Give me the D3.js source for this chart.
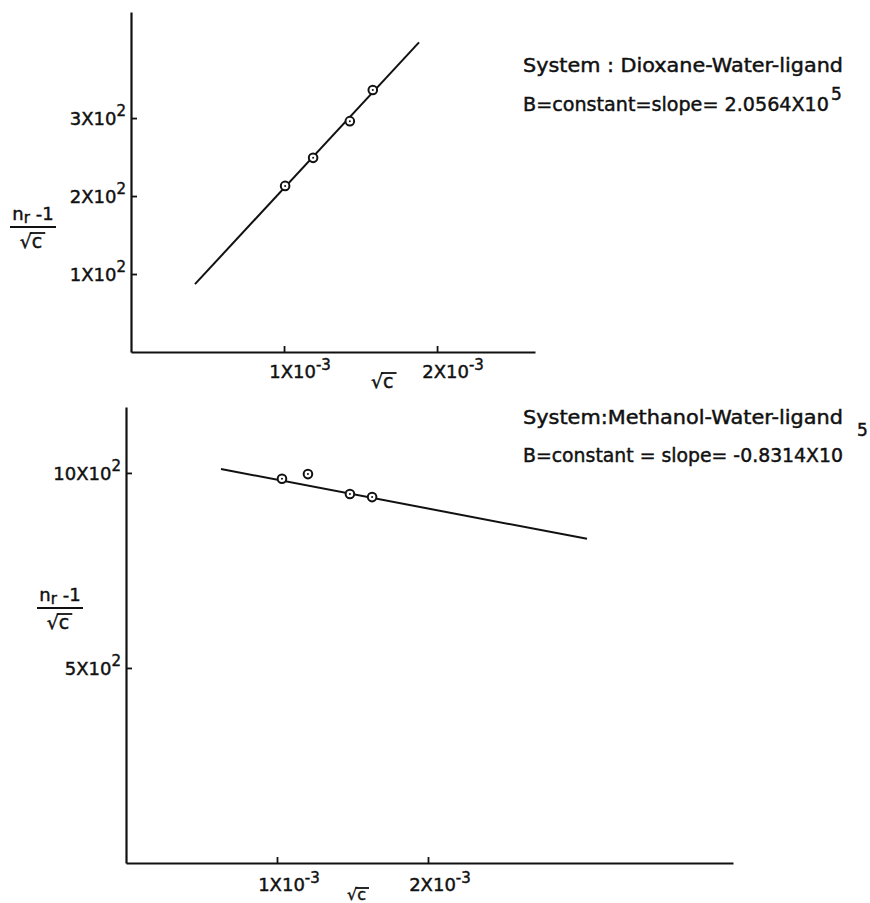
<!DOCTYPE html>
<html>
<head>
<meta charset="utf-8">
<script src="https://cdn.jsdelivr.net/npm/d3@7/dist/d3.min.js"></script>
<style>
  html, body { margin: 0; padding: 0; background: #fff; }
  svg { display: block; }
  text { font-family: "DejaVu Sans", sans-serif; fill: #111; stroke: #111; stroke-width: 0.45px; }
</style>
</head>
<body>
<svg id="chart" width="870" height="903"></svg>
<script>
// ---- Data ----
// Upper panel: Dioxane-Water-ligand
const dioxaneX = [1.007e-3, 1.19e-3, 1.43e-3, 1.58e-3];
const dioxaneY = [213, 249, 296, 336];
const dioxaneFitX = [0.418e-3, 1.882e-3];
const dioxaneFitY = [87, 397];
// Lower panel: Methanol-Water-ligand
const methanolX = [1.033e-3, 1.205e-3, 1.483e-3, 1.63e-3];
const methanolY = [985, 997, 946, 938];
const methanolFitX = [0.629e-3, 3.053e-3];
const methanolFitY = [1010, 831];
// Tick values and labels
const topXTicks = [1e-3, 2e-3];
const topXLabels = ["1X10", "2X10"];
const topYTicks = [100, 200, 300];
const topYLabels = ["1X10", "2X10", "3X10"];
const botXTicks = [1e-3, 2e-3];
const botXLabels = ["1X10", "2X10"];
const botYTicks = [500, 1000];
const botYLabels = ["5X10", "10X10"];
const xSup = "-3", ySup = "2";
const topTitle = "System : Dioxane-Water-ligand";
const topSlope = "B=constant=slope= 2.0564X10";
const botTitle = "System:Methanol-Water-ligand";
const botSlope = "B=constant = slope= -0.8314X10";
const slopeSup = "5";

const svg = d3.select("#chart");
const ink = "#111";

function panel(cfg) {
  const x = d3.scaleLinear().domain(cfg.xDomain).range(cfg.xRange);
  const y = d3.scaleLinear().domain(cfg.yDomain).range(cfg.yRange);
  const g = svg.append("g");

  // axes (ticks pointing inward)
  const xAxis = d3.axisBottom(x).tickValues(cfg.xTicks).tickSize(-6).tickSizeOuter(0).tickFormat("");
  const yAxis = d3.axisLeft(y).tickValues(cfg.yTicks).tickSize(-6).tickSizeOuter(0).tickFormat("");
  const gx = g.append("g").attr("transform", `translate(0,${y(0)})`).call(xAxis);
  const gy = g.append("g").attr("transform", `translate(${x(0)},0)`).call(yAxis);
  [gx, gy].forEach(a => {
    a.selectAll("path").attr("stroke", ink).attr("stroke-width", 2.2);
    a.selectAll("line").attr("stroke", ink).attr("stroke-width", 1.8);
  });

  // x tick labels
  cfg.xTicks.forEach((v, i) => {
    const t = g.append("text").attr("x", x(v) + cfg.xLabDx).attr("y", y(0) + cfg.xLabDy)
      .attr("text-anchor", "middle").attr("font-size", 18);
    t.append("tspan").text(cfg.xLabels[i]);
    t.append("tspan").attr("dy", -8).attr("font-size", 15).text(xSup);
  });
  // y tick labels
  cfg.yTicks.forEach((v, i) => {
    const t = g.append("text").attr("x", x(0) - 5).attr("y", y(v) + 7)
      .attr("text-anchor", "end").attr("font-size", 18);
    t.append("tspan").text(cfg.yLabels[i]);
    t.append("tspan").attr("dy", -9).attr("font-size", 15).text(ySup);
  });

  // fitted line
  const line = d3.line().x(d => x(d[0])).y(d => y(d[1]));
  g.append("path").datum(d3.zip(cfg.fitX, cfg.fitY)).attr("d", line)
    .attr("fill", "none").attr("stroke", ink).attr("stroke-width", 2);

  // points
  const pts = d3.zip(cfg.px, cfg.py);
  g.selectAll("circle.pt").data(pts).join("circle").attr("class", "pt")
    .attr("cx", d => x(d[0])).attr("cy", d => y(d[1])).attr("r", 4.3)
    .attr("fill", "#fff").attr("stroke", ink).attr("stroke-width", 2);
  g.selectAll("circle.dot").data(pts).join("circle").attr("class", "dot")
    .attr("cx", d => x(d[0])).attr("cy", d => y(d[1])).attr("r", 1)
    .attr("fill", ink);

  // x axis title: √c with overline
  const xl = g.append("text").attr("x", cfg.xTitle[0]).attr("y", cfg.xTitle[1])
    .attr("font-size", cfg.xTitleSize).text("√c");
  const xb = xl.node().getBBox();
  g.append("line").attr("x1", xb.x + xb.width * 0.45).attr("x2", xb.x + xb.width + 3)
    .attr("y1", xb.y + 3).attr("y2", xb.y + 3).attr("stroke", ink).attr("stroke-width", 1.8);

  // y axis title: fraction (n_r - 1) / √c
  const [fx, fy] = cfg.yTitle;
  const num = g.append("text").attr("x", fx).attr("y", fy - 7).attr("text-anchor", "middle").attr("font-size", 18);
  num.append("tspan").text("n");
  num.append("tspan").attr("dy", 3).attr("font-size", 15).text("r");
  num.append("tspan").attr("dy", -3).text(" -1");
  g.append("line").attr("x1", fx - 23).attr("x2", fx + 23).attr("y1", fy).attr("y2", fy)
    .attr("stroke", ink).attr("stroke-width", 2);
  const den = g.append("text").attr("x", fx - 2).attr("y", fy + 21).attr("text-anchor", "middle")
    .attr("font-size", 19).text("√c");
  const db = den.node().getBBox();
  g.append("line").attr("x1", db.x + db.width * 0.45).attr("x2", db.x + db.width + 3)
    .attr("y1", db.y + 3).attr("y2", db.y + 3).attr("stroke", ink).attr("stroke-width", 1.8);

  // annotation
  g.append("text").attr("x", 523).attr("y", cfg.ann[0]).attr("font-size", 19)
    .attr("textLength", 320).attr("lengthAdjust", "spacingAndGlyphs").text(cfg.title);
  g.append("text").attr("x", 523).attr("y", cfg.ann[1]).attr("font-size", 19)
    .attr("textLength", cfg.slopeLen).attr("lengthAdjust", "spacingAndGlyphs").text(cfg.slope);
  g.append("text").attr("x", cfg.supPos[0]).attr("y", cfg.supPos[1]).attr("font-size", 17).text(slopeSup);
}

panel({
  xDomain: [0, 2.64e-3], xRange: [131, 535],
  yDomain: [0, 436], yRange: [352, 12],
  xTicks: topXTicks, xLabels: topXLabels, yTicks: topYTicks, yLabels: topYLabels,
  xLabDx: 16, xLabDy: 26,
  px: dioxaneX, py: dioxaneY, fitX: dioxaneFitX, fitY: dioxaneFitY,
  xTitle: [371, 388], xTitleSize: 19, yTitle: [33, 227],
  title: topTitle, slope: topSlope, ann: [72, 111], slopeLen: 306, supPos: [831, 100]
});

panel({
  xDomain: [0, 4.02e-3], xRange: [126, 733],
  yDomain: [0, 1169], yRange: [863, 407],
  xTicks: botXTicks, xLabels: botXLabels, yTicks: botYTicks, yLabels: botYLabels,
  xLabDx: 12, xLabDy: 28,
  px: methanolX, py: methanolY, fitX: methanolFitX, fitY: methanolFitY,
  xTitle: [347, 900], xTitleSize: 16, yTitle: [60, 608],
  title: botTitle, slope: botSlope, ann: [424, 462], slopeLen: 320, supPos: [857, 436]
});
</script>
</body>
</html>
